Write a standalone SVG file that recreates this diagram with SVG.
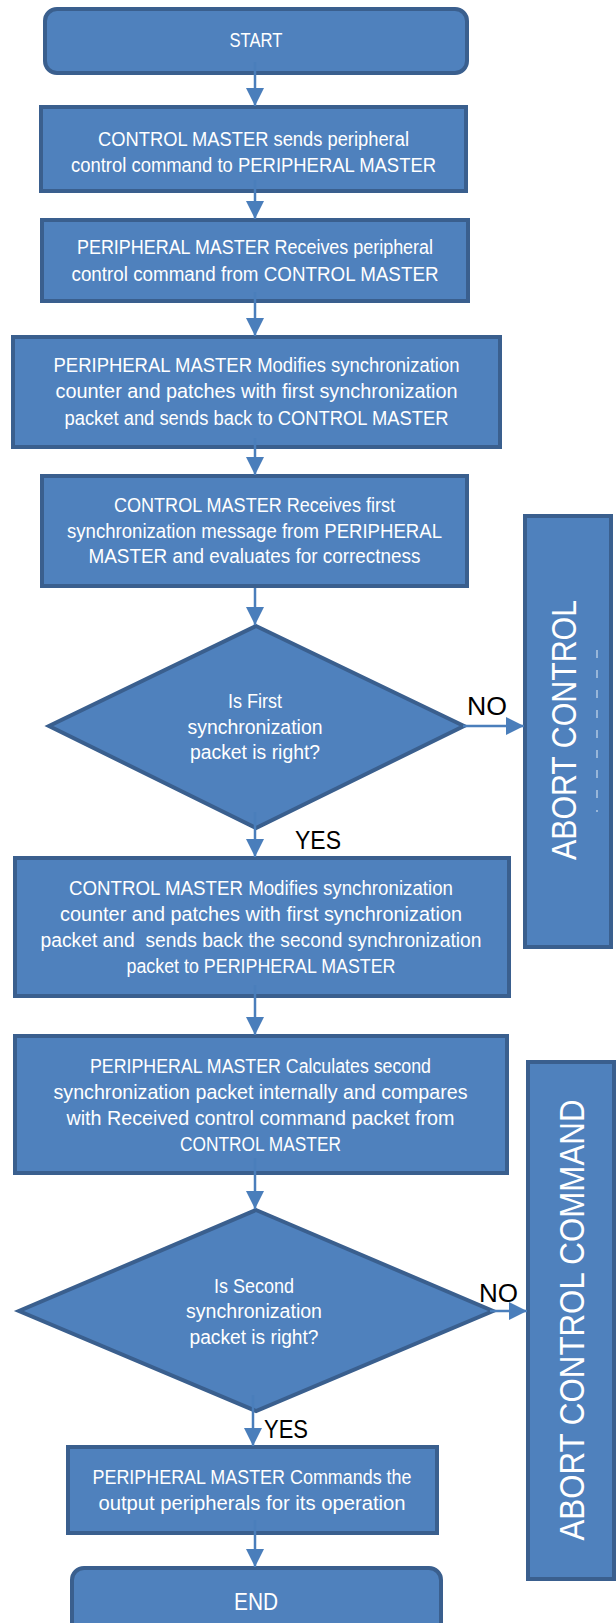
<svg xmlns="http://www.w3.org/2000/svg" width="616" height="1623" viewBox="0 0 616 1623">
<defs>
<style>
.box{fill:#4f81bd;stroke:#3a5f8e;stroke-width:4}
.t{font-family:"Liberation Sans",Arial,sans-serif;font-size:20px;fill:#ffffff;text-anchor:middle}
.lbl{font-family:"Liberation Sans",Arial,sans-serif;font-size:26px;fill:#000000}
.ab{font-family:"Liberation Sans",Arial,sans-serif;font-size:35px;fill:#ffffff;text-anchor:middle}
.c{fill:none;stroke:#4a7ebb;stroke-width:2.5}
</style>
<marker id="ah" markerUnits="userSpaceOnUse" markerWidth="18" markerHeight="18" viewBox="0 0 16 16" refX="16" refY="8" orient="auto">
<path d="M0,0 L16,8 L0,16 Z" fill="#4a7ebb"/>
</marker>
</defs>
<rect width="616" height="1623" fill="#ffffff"/>

<g id="start">
<rect class="box" x="45" y="9" width="422" height="64" rx="12"/>
<text class="t" x="256" y="47" textLength="53" lengthAdjust="spacingAndGlyphs">START</text>
</g>

<g id="cm-sends">
<rect class="box" x="41" y="107" width="425" height="84"/>
<text class="t" x="253.5" y="146" textLength="311" lengthAdjust="spacingAndGlyphs">CONTROL MASTER sends peripheral</text>
<text class="t" x="253.5" y="172" textLength="365" lengthAdjust="spacingAndGlyphs">control command to PERIPHERAL MASTER</text>
</g>

<g id="pm-receives">
<rect class="box" x="42" y="220" width="426" height="81"/>
<text class="t" x="255" y="254" textLength="356" lengthAdjust="spacingAndGlyphs">PERIPHERAL MASTER Receives peripheral</text>
<text class="t" x="255" y="281" textLength="367" lengthAdjust="spacingAndGlyphs">control command from CONTROL MASTER</text>
</g>

<g id="pm-modifies">
<rect class="box" x="13" y="337" width="487" height="110"/>
<text class="t" x="256.5" y="372" textLength="406" lengthAdjust="spacingAndGlyphs">PERIPHERAL MASTER Modifies synchronization</text>
<text class="t" x="256.5" y="398" textLength="402" lengthAdjust="spacingAndGlyphs">counter and patches with first synchronization</text>
<text class="t" x="256.5" y="425" textLength="384" lengthAdjust="spacingAndGlyphs">packet and sends back to CONTROL MASTER</text>
</g>

<g id="cm-receives">
<rect class="box" x="42" y="476" width="425" height="110"/>
<text class="t" x="254.5" y="512" textLength="281" lengthAdjust="spacingAndGlyphs">CONTROL MASTER Receives first</text>
<text class="t" x="254.5" y="538" textLength="375" lengthAdjust="spacingAndGlyphs">synchronization message from PERIPHERAL</text>
<text class="t" x="254.5" y="563" textLength="332" lengthAdjust="spacingAndGlyphs">MASTER and evaluates for correctness</text>
</g>

<g id="decision1">
<polygon class="box" points="256,626 464,726 256,828 49,726"/>
<text class="t" x="255" y="708" textLength="54" lengthAdjust="spacingAndGlyphs">Is First</text>
<text class="t" x="255" y="734" textLength="135" lengthAdjust="spacingAndGlyphs">synchronization</text>
<text class="t" x="255" y="759" textLength="130" lengthAdjust="spacingAndGlyphs">packet is right?</text>
</g>

<g id="cm-modifies">
<rect class="box" x="15" y="858" width="494" height="138"/>
<text class="t" x="261" y="895" textLength="384" lengthAdjust="spacingAndGlyphs">CONTROL MASTER Modifies synchronization</text>
<text class="t" x="261" y="921" textLength="402" lengthAdjust="spacingAndGlyphs">counter and patches with first synchronization</text>
<text class="t" x="261" y="947" textLength="441" lengthAdjust="spacingAndGlyphs" xml:space="preserve">packet and  sends back the second synchronization</text>
<text class="t" x="261" y="973" textLength="269" lengthAdjust="spacingAndGlyphs">packet to PERIPHERAL MASTER</text>
</g>

<g id="pm-calculates">
<rect class="box" x="15" y="1036" width="492" height="137"/>
<text class="t" x="260.5" y="1073" textLength="341" lengthAdjust="spacingAndGlyphs">PERIPHERAL MASTER Calculates second</text>
<text class="t" x="260.5" y="1099" textLength="414" lengthAdjust="spacingAndGlyphs">synchronization packet internally and compares</text>
<text class="t" x="260.5" y="1125" textLength="388" lengthAdjust="spacingAndGlyphs">with Received control command packet from</text>
<text class="t" x="260.5" y="1151" textLength="161" lengthAdjust="spacingAndGlyphs">CONTROL MASTER</text>
</g>

<g id="decision2">
<polygon class="box" points="256,1210 493,1311 256,1411 19,1311"/>
<text class="t" x="254" y="1293" textLength="80" lengthAdjust="spacingAndGlyphs">Is Second</text>
<text class="t" x="254" y="1318" textLength="136" lengthAdjust="spacingAndGlyphs">synchronization</text>
<text class="t" x="254" y="1344" textLength="129" lengthAdjust="spacingAndGlyphs">packet is right?</text>
</g>

<g id="pm-commands">
<rect class="box" x="68" y="1447" width="369" height="86"/>
<text class="t" x="252" y="1484" textLength="319" lengthAdjust="spacingAndGlyphs">PERIPHERAL MASTER Commands the</text>
<text class="t" x="252" y="1510" textLength="307" lengthAdjust="spacingAndGlyphs">output peripherals for its operation</text>
</g>

<g id="end">
<rect class="box" x="72" y="1568" width="369" height="70" rx="12"/>
<text class="t" x="256" y="1610" style="font-size:23px" textLength="44" lengthAdjust="spacingAndGlyphs">END</text>
</g>

<g id="abort1">
<rect class="box" x="525" y="516" width="86" height="431"/>
<line x1="597" y1="650" x2="597" y2="812" stroke="#dce6f2" stroke-width="1.5" stroke-dasharray="8 12" opacity="0.7"/>
<text class="ab" transform="translate(576,730) rotate(-90)" textLength="260" lengthAdjust="spacingAndGlyphs">ABORT CONTROL</text>
</g>

<g id="abort2">
<rect class="box" x="528" y="1062" width="86" height="517"/>
<text class="ab" transform="translate(584,1320) rotate(-90)" textLength="441" lengthAdjust="spacingAndGlyphs">ABORT CONTROL COMMAND</text>
</g>

<g id="connectors">
<line class="c" x1="255" y1="62" x2="255" y2="106" marker-end="url(#ah)"/>
<line class="c" x1="255" y1="180" x2="255" y2="219" marker-end="url(#ah)"/>
<line class="c" x1="255" y1="292" x2="255" y2="336" marker-end="url(#ah)"/>
<line class="c" x1="255" y1="438" x2="255" y2="475" marker-end="url(#ah)"/>
<line class="c" x1="255" y1="588" x2="255" y2="625" marker-end="url(#ah)"/>
<line class="c" x1="255" y1="812" x2="255" y2="857" marker-end="url(#ah)"/>
<line class="c" x1="255" y1="985" x2="255" y2="1035" marker-end="url(#ah)"/>
<line class="c" x1="255" y1="1158" x2="255" y2="1209" marker-end="url(#ah)"/>
<line class="c" x1="253" y1="1395" x2="253" y2="1446" marker-end="url(#ah)"/>
<line class="c" x1="255" y1="1520" x2="255" y2="1567" marker-end="url(#ah)"/>
<line class="c" x1="463" y1="726" x2="524" y2="726" marker-end="url(#ah)"/>
<line class="c" x1="490" y1="1311" x2="527" y2="1311" marker-end="url(#ah)"/>
<text class="lbl" x="467" y="715" textLength="40" lengthAdjust="spacingAndGlyphs">NO</text>
<text class="lbl" x="295" y="849" textLength="46" lengthAdjust="spacingAndGlyphs">YES</text>
<text class="lbl" x="479" y="1302" textLength="39" lengthAdjust="spacingAndGlyphs">NO</text>
<text class="lbl" x="264" y="1438" textLength="44" lengthAdjust="spacingAndGlyphs">YES</text>
</g>
</svg>
